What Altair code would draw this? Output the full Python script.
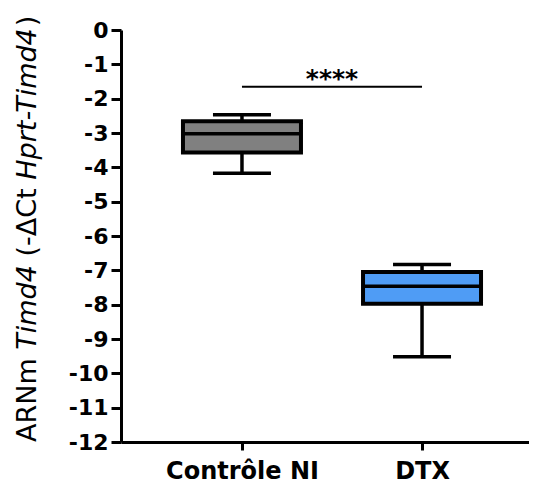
import altair as alt
import pandas as pd

groups = ["Contrôle NI", "DTX"]
whisker_low = [-4.17, -9.52]
q1 = [-3.57, -7.97]
median = [-3.02, -7.46]
q3 = [-2.66, -7.05]
whisker_high = [-2.47, -6.83]
box_colors = ["#808080", "#4F9CF5"]

sig_y = -1.65
sig_label = "****"
y_ticks = list(range(-12, 1))

title_parts = [("ARNm ", "normal"), ("Timd4", "italic"), (" (-ΔCt ", "normal"),
               ("Hprt-Timd4", "italic"), (")", "normal")]

df = pd.DataFrame({
    "group": groups, "lo": whisker_low, "q1": q1, "med": median,
    "q3": q3, "hi": whisker_high,
})

FONT = "DejaVu Sans"
xscale = alt.Scale(type="point", domain=groups, padding=0.633, align=0.5307)
yscale = alt.Scale(domain=[-12, 0], nice=False, zero=False)

xaxis = alt.Axis(title=None, labelAngle=0, labelFont=FONT, labelFontWeight="bold",
                 labelFontSize=24, labelColor="black", labelPadding=9,
                 domainColor="black", domainWidth=3, tickColor="black",
                 tickWidth=3, tickSize=8, grid=False, labelOverlap=False)
yaxis = alt.Axis(title=None, values=y_ticks, labelExpr="'' + datum.value",
                 labelFont=FONT, labelFontWeight="bold", labelFontSize=22,
                 labelColor="black", labelPadding=3, domainColor="black",
                 domainWidth=3, tickColor="black", tickWidth=3, tickSize=10,
                 grid=False, labelOverlap=False)

X = alt.X("group:N", scale=xscale, sort=groups, axis=xaxis)


def Yf(field):
    return alt.Y(f"{field}:Q", scale=yscale, axis=yaxis)


base = alt.Chart(df)

whisk_lo = base.mark_rule(color="black", strokeWidth=3.5, opacity=1).encode(x=X, y=Yf("lo"), y2="q1:Q")
whisk_hi = base.mark_rule(color="black", strokeWidth=3.5, opacity=1).encode(x=X, y=Yf("q3"), y2="hi:Q")
box = base.mark_bar(size=118, stroke="black", strokeWidth=4, opacity=1).encode(
    x=X, y=Yf("q1"), y2="q3:Q",
    fill=alt.Fill("group:N", scale=alt.Scale(domain=groups, range=box_colors), legend=None),
)
med = base.mark_tick(orient="horizontal", size=118, thickness=3.5, color="black", opacity=1).encode(
    x=X, y=Yf("med"))
cap_lo = base.mark_tick(orient="horizontal", size=58, thickness=3.5, color="black", opacity=1).encode(
    x=X, y=Yf("lo"))
cap_hi = base.mark_tick(orient="horizontal", size=58, thickness=3.5, color="black", opacity=1).encode(
    x=X, y=Yf("hi"))

sig_df = pd.DataFrame({"a": [groups[0]], "b": [groups[1]], "y": [sig_y], "t": [sig_label]})
sig_line = alt.Chart(sig_df).mark_rule(color="black", strokeWidth=2).encode(
    x=alt.X("a:N", scale=xscale, axis=xaxis), x2="b:N", y=Yf("y"))
sig_text = alt.Chart(sig_df).mark_text(font=FONT, fontSize=25, fontWeight="bold",
                                       baseline="alphabetic", dx=90, dy=0, color="black").encode(
    x=alt.X("a:N", scale=xscale, axis=xaxis), y=Yf("y"), text="t:N")

# y-axis title with mixed italics, drawn as rotated text segments
TFS = 27
em = {"ARNm ": 3.419, "Timd4": 3.134, " (-ΔCt ": 3.161, "Hprt-Timd4": 5.685, ")": 0.39}
lead = {"ARNm ": 0, "Timd4": 0, " (-ΔCt ": 0.318, "Hprt-Timd4": 0, ")": 0}
title_layers = []
pos = 412
for txt, style in title_parts:
    start = pos - lead[txt] * TFS
    title_layers.append(
        alt.Chart(alt.Data(values=[{}])).mark_text(
            font=FONT, fontSize=TFS, fontStyle=style, angle=270, align="left",
            baseline="alphabetic", color="black",
        ).encode(x=alt.value(-85), y=alt.value(start), text=alt.value(txt.strip()))
    )
    pos -= em[txt] * TFS

chart = alt.layer(whisk_lo, whisk_hi, box, med, cap_lo, cap_hi, sig_line, sig_text, *title_layers).properties(
    width=408, height=412,
    autosize=alt.AutoSizeParams(type="none"),
    padding={"left": 113, "top": 22, "right": 0, "bottom": 44},
).configure_view(stroke=None)

chart.save("out.html", embed_options={"renderer": "svg", "actions": False})
